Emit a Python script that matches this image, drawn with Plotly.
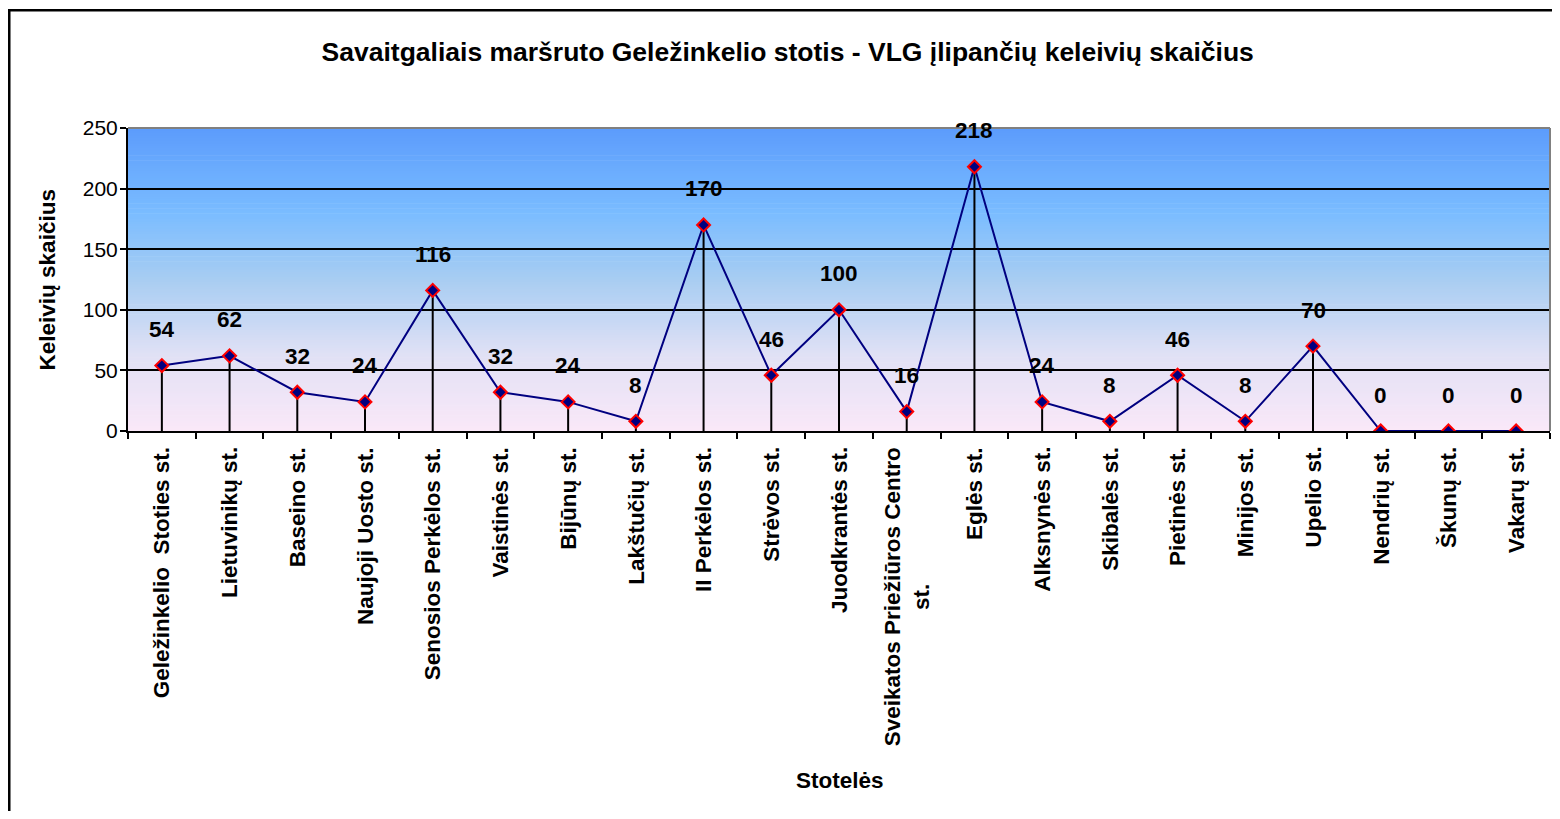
import plotly.graph_objects as go

categories = [
    "Geležinkelio  Stoties st.",
    "Lietuvinikų st.",
    "Baseino st.",
    "Naujoji Uosto st.",
    "Senosios Perkėlos st.",
    "Vaistinės st.",
    "Bijūnų st.",
    "Lakštučių st.",
    "II Perkėlos st.",
    "Strėvos st.",
    "Juodkrantės st.",
    "Sveikatos Priežiūros Centro<br>st.",
    "Eglės st.",
    "Alksnynės st.",
    "Skibalės st.",
    "Pietinės st.",
    "Minijos st.",
    "Upelio st.",
    "Nendrių st.",
    "Škunų st.",
    "Vakarų st.",
]
values = [54, 62, 32, 24, 116, 32, 24, 8, 170, 46, 100, 16, 218, 24, 8, 46, 8, 70, 0, 0, 0]
y_ticks = [0, 50, 100, 150, 200, 250]

title_text = "Savaitgaliais maršruto Geležinkelio stotis - VLG įlipančių keleivių skaičius"
y_title = "Keleivių skaičius"
x_title = "Stotelės"

FONT = "Liberation Sans, Arial, sans-serif"
FS_BOLD = 22.5
FS_TICK = 21
FS_TITLE = 26.5

x_idx = list(range(len(categories)))

fig = go.Figure()
fig.add_trace(go.Scatter(
    x=x_idx, y=values, mode="lines+markers",
    line=dict(color="#000080", width=2),
    marker=dict(symbol="diamond", size=10, color="#000080",
                line=dict(color="#ff0000", width=2)),
    error_y=dict(type="data", symmetric=False,
                 array=[0] * len(values), arrayminus=values,
                 color="black", thickness=2, width=0),
    hoverinfo="x+y", showlegend=False,
))

# gradient background
stops = [(0.0, (250, 232, 248)), (0.25, (225, 225, 245)), (0.5, (168, 205, 242)),
         (0.72, (122, 188, 255)), (1.0, (92, 156, 252))]

def col(t):
    for i in range(len(stops) - 1):
        t0, c0 = stops[i]
        t1, c1 = stops[i + 1]
        if t0 <= t <= t1:
            f = (t - t0) / (t1 - t0)
            return "rgb(%d,%d,%d)" % tuple(round(c0[k] + (c1[k] - c0[k]) * f) for k in range(3))
    return "rgb(%d,%d,%d)" % stops[-1][1]

shapes = []
N = 120
for i in range(N):
    t0 = i / N
    t1 = (i + 1) / N
    shapes.append(dict(type="rect", xref="x domain", yref="y domain",
                       x0=0, x1=1, y0=t0, y1=t1 + 0.002, layer="below",
                       line=dict(width=0), fillcolor=col((t0 + t1) / 2)))
# gray top/right border of plot area
shapes.append(dict(type="line", xref="x domain", yref="y domain", x0=0, x1=1, y0=1, y1=1,
                   line=dict(color="#808080", width=2), layer="above"))
shapes.append(dict(type="line", xref="x domain", yref="y domain", x0=1, x1=1, y0=0, y1=1,
                   line=dict(color="#808080", width=2), layer="above"))
# outer chart frame
shapes.append(dict(type="rect", xref="paper", yref="paper",
                   x0=-0.0835, x1=1.05, y0=-1.5, y1=1.389,
                   line=dict(color="black", width=2.5), fillcolor="rgba(0,0,0,0)", layer="above"))

annotations = []
for xi, v in zip(x_idx, values):
    annotations.append(dict(x=xi, y=v, xref="x", yref="y", text=str(v), showarrow=False,
                            yshift=36, yanchor="middle",
                            font=dict(family=FONT, size=FS_BOLD, color="black", weight="bold")))
for xi, c in zip(x_idx, categories):
    annotations.append(dict(x=xi, y=0, xref="x", yref="y", text=c, showarrow=False,
                            textangle=-90, yanchor="top", xanchor="center", align="center",
                            yshift=-14,
                            font=dict(family=FONT, size=FS_BOLD, color="black", weight="bold")))
annotations.append(dict(x=0.501, y=-1.155, xref="paper", yref="paper", text=x_title,
                        showarrow=False, yanchor="middle",
                        font=dict(family=FONT, size=FS_BOLD, color="black", weight="bold")))
annotations.append(dict(x=-0.0563, y=0.5, xref="paper", yref="paper", text=y_title,
                        showarrow=False, textangle=-90, xanchor="center", yanchor="middle",
                        font=dict(family=FONT, size=FS_BOLD, color="black", weight="bold")))

fig.update_layout(
    width=1544, height=803,
    margin=dict(l=120, r=2, t=120, b=380),
    paper_bgcolor="white", plot_bgcolor="rgba(0,0,0,0)",
    title=dict(text=title_text, x=0.505, xanchor="center", y=1 - 44 / 803, yanchor="middle",
               font=dict(family=FONT, size=FS_TITLE, color="black", weight="bold")),
    shapes=shapes, annotations=annotations,
    xaxis=dict(range=[-0.5, len(categories) - 0.5], tickvals=[i - 0.5 for i in range(len(categories) + 1)],
               showticklabels=False, ticks="outside", ticklen=6, tickwidth=2, tickcolor="black",
               showgrid=False, zeroline=False, showline=True, linecolor="black", linewidth=2),
    yaxis=dict(range=[0, 250], tickvals=y_ticks, ticks="outside", ticklen=6, tickwidth=2,
               tickcolor="black", showgrid=True, gridcolor="black", gridwidth=2,
               zeroline=False, showline=True, linecolor="black", linewidth=2,
               ticklabelstandoff=-2,
               tickfont=dict(family=FONT, size=FS_TICK, color="black")),
)

fig.write_html("out.html")
